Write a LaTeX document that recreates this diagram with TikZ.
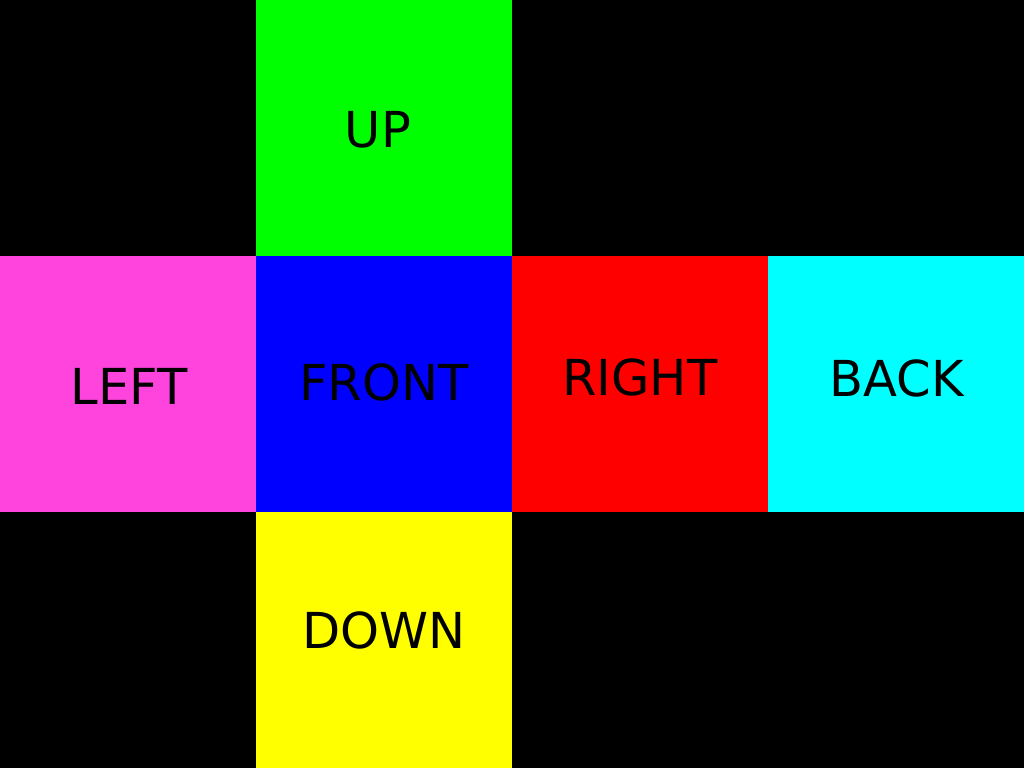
\documentclass[tikz,border=0pt]{standalone}
\usepackage{fontspec}
\setmainfont{DejaVu Sans}
\definecolor{cgreen}{RGB}{0,255,0}
\definecolor{cpink}{RGB}{255,68,221}
\definecolor{cblue}{RGB}{0,0,255}
\definecolor{cred}{RGB}{255,0,0}
\definecolor{ccyan}{RGB}{0,255,255}
\definecolor{cyellow}{RGB}{255,255,0}
\tikzset{
  face/.style={draw=none, minimum width=2.56cm, minimum height=2.56cm, inner sep=0pt, outer sep=0pt, anchor=south west},
  lbl/.style={font=\fontsize{14.1pt}{16pt}\selectfont, text=black, inner sep=0pt}
}
\begin{document}
\begin{tikzpicture}
\fill[black] (0,0) rectangle (10.24,7.68);
\useasboundingbox (0,0) rectangle (10.24,7.68);
\node[face, fill=cgreen] (up) at (2.56,5.12) {};
\node[face, fill=cpink] (left) at (0,2.56) {};
\node[face, fill=cblue] (front) at (2.56,2.56) {};
\node[face, fill=cred] (right) at (5.12,2.56) {};
\node[face, fill=ccyan] (back) at (7.68,2.56) {};
\node[face, fill=cyellow] (down) at (2.56,0) {};
\node[lbl] (tup) at (3.78,6.38) {UP};
\node[lbl] (tleft) at (1.29,3.82) {LEFT};
\node[lbl] (tfront) at (3.84,3.86) {FRONT};
\node[lbl] (tright) at (6.40,3.91) {RIGHT};
\node[lbl] (tback) at (8.97,3.90) {BACK};
\node[lbl] (tdown) at (3.84,1.38) {DOWN};
\end{tikzpicture}
\end{document}
